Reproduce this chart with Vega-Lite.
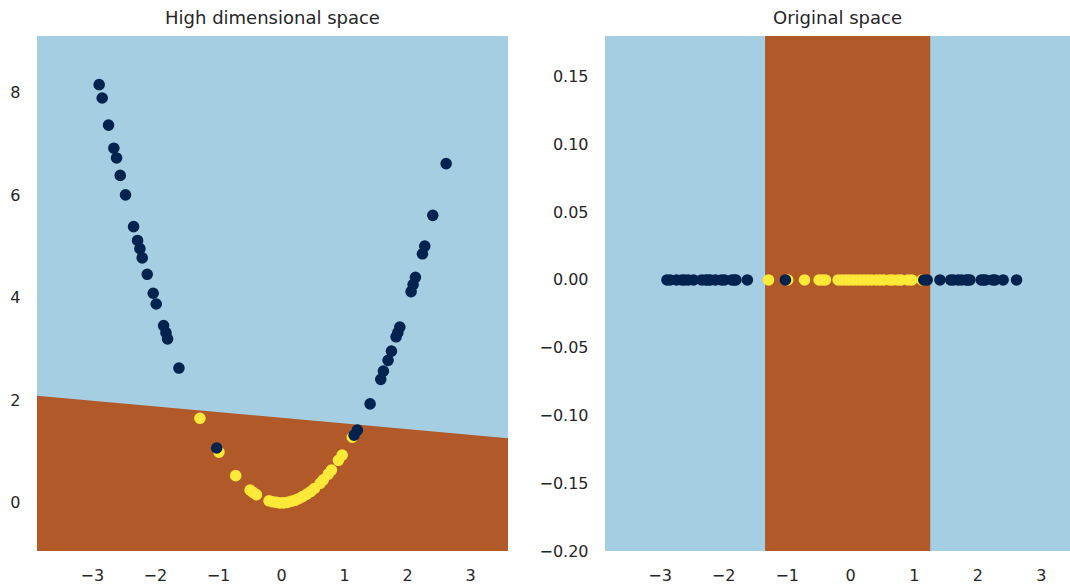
{
  "$schema": "https://vega.github.io/schema/vega-lite/v6.json",
  "background": "white",
  "padding": {"left": 9, "top": 10, "right": 0, "bottom": 2},
  "bounds": "flush",
  "spacing": 97,
  "config": {
    "view": {"stroke": null, "fill": "#a6cee3"},
    "axis": {"domain": false, "ticks": false, "grid": false, "labelFont": "DejaVu Sans", "labelFontSize": 16, "labelColor": "#262626", "title": null},
    "axisX": {"labelPadding": 16},
    "axisY": {"labelPadding": 17},
    "title": {"font": "DejaVu Sans", "fontSize": 18, "fontWeight": "normal", "color": "#262626", "offset": 8}
  },
  "datasets": {
    "pts": [
      {"x": -1.286, "y": 1.65, "z": 0, "c": "1"},
      {"x": -0.984, "y": 0.99, "z": 0, "c": "1"},
      {"x": -0.719, "y": 0.53, "z": 0, "c": "1"},
      {"x": -0.49, "y": 0.25, "z": 0, "c": "1"},
      {"x": -0.44, "y": 0.2, "z": 0, "c": "1"},
      {"x": -0.39, "y": 0.16, "z": 0, "c": "1"},
      {"x": -0.19, "y": 0.04, "z": 0, "c": "1"},
      {"x": -0.13, "y": 0.02, "z": 0, "c": "1"},
      {"x": -0.07, "y": 0.01, "z": 0, "c": "1"},
      {"x": -0.02, "y": 0.0, "z": 0, "c": "1"},
      {"x": 0.04, "y": 0.0, "z": 0, "c": "1"},
      {"x": 0.1, "y": 0.01, "z": 0, "c": "1"},
      {"x": 0.16, "y": 0.03, "z": 0, "c": "1"},
      {"x": 0.22, "y": 0.05, "z": 0, "c": "1"},
      {"x": 0.28, "y": 0.08, "z": 0, "c": "1"},
      {"x": 0.34, "y": 0.12, "z": 0, "c": "1"},
      {"x": 0.41, "y": 0.17, "z": 0, "c": "1"},
      {"x": 0.47, "y": 0.22, "z": 0, "c": "1"},
      {"x": 0.53, "y": 0.28, "z": 0, "c": "1"},
      {"x": 0.62, "y": 0.38, "z": 0, "c": "1"},
      {"x": 0.67, "y": 0.45, "z": 0, "c": "1"},
      {"x": 0.75, "y": 0.56, "z": 0, "c": "1"},
      {"x": 0.8, "y": 0.64, "z": 0, "c": "1"},
      {"x": 0.91, "y": 0.83, "z": 0, "c": "1"},
      {"x": 0.97, "y": 0.93, "z": 0, "c": "1"},
      {"x": 1.13, "y": 1.28, "z": 0, "c": "1"},
      {"x": -2.884, "y": 8.16, "z": 0, "c": "0"},
      {"x": -2.836, "y": 7.9, "z": 0, "c": "0"},
      {"x": -2.735, "y": 7.37, "z": 0, "c": "0"},
      {"x": -2.651, "y": 6.92, "z": 0, "c": "0"},
      {"x": -2.608, "y": 6.73, "z": 0, "c": "0"},
      {"x": -2.55, "y": 6.39, "z": 0, "c": "0"},
      {"x": -2.466, "y": 6.01, "z": 0, "c": "0"},
      {"x": -2.338, "y": 5.39, "z": 0, "c": "0"},
      {"x": -2.275, "y": 5.12, "z": 0, "c": "0"},
      {"x": -2.238, "y": 4.96, "z": 0, "c": "0"},
      {"x": -2.201, "y": 4.78, "z": 0, "c": "0"},
      {"x": -2.122, "y": 4.46, "z": 0, "c": "0"},
      {"x": -2.027, "y": 4.09, "z": 0, "c": "0"},
      {"x": -1.979, "y": 3.88, "z": 0, "c": "0"},
      {"x": -1.862, "y": 3.46, "z": 0, "c": "0"},
      {"x": -1.825, "y": 3.32, "z": 0, "c": "0"},
      {"x": -1.799, "y": 3.2, "z": 0, "c": "0"},
      {"x": -1.619, "y": 2.63, "z": 0, "c": "0"},
      {"x": -1.02, "y": 1.07, "z": 0, "c": "0"},
      {"x": 1.159, "y": 1.32, "z": 0, "c": "0"},
      {"x": 1.211, "y": 1.42, "z": 0, "c": "0"},
      {"x": 1.413, "y": 1.93, "z": 0, "c": "0"},
      {"x": 1.582, "y": 2.41, "z": 0, "c": "0"},
      {"x": 1.624, "y": 2.57, "z": 0, "c": "0"},
      {"x": 1.698, "y": 2.78, "z": 0, "c": "0"},
      {"x": 1.751, "y": 2.96, "z": 0, "c": "0"},
      {"x": 1.825, "y": 3.24, "z": 0, "c": "0"},
      {"x": 1.852, "y": 3.32, "z": 0, "c": "0"},
      {"x": 1.884, "y": 3.43, "z": 0, "c": "0"},
      {"x": 2.063, "y": 4.12, "z": 0, "c": "0"},
      {"x": 2.095, "y": 4.26, "z": 0, "c": "0"},
      {"x": 2.132, "y": 4.4, "z": 0, "c": "0"},
      {"x": 2.243, "y": 4.86, "z": 0, "c": "0"},
      {"x": 2.28, "y": 5.01, "z": 0, "c": "0"},
      {"x": 2.407, "y": 5.61, "z": 0, "c": "0"},
      {"x": 2.619, "y": 6.62, "z": 0, "c": "0"}
    ],
    "boundary": [
      {"bx": -3.87, "by": 2.09, "bottom": -0.94},
      {"bx": 3.6, "by": 1.26, "bottom": -0.94}
    ],
    "band": [
      {"x0": -1.34, "x1": 1.26, "y0": -0.2, "y1": 0.18}
    ]
  },
  "hconcat": [
    {
      "width": 471,
      "height": 515,
      "title": "High dimensional space",
      "layer": [
        {
          "data": {"name": "boundary"},
          "mark": {"type": "area", "color": "#b15928", "clip": true},
          "encoding": {
            "x": {"field": "bx", "type": "quantitative", "scale": {"domain": [-3.87, 3.6], "nice": false, "zero": false}, "axis": {"values": [-3, -2, -1, 0, 1, 2, 3], "format": "d"}},
            "y": {"field": "by", "type": "quantitative", "scale": {"domain": [-0.94, 9.11], "nice": false, "zero": false}, "axis": {"values": [0, 2, 4, 6, 8], "format": "d"}},
            "y2": {"field": "bottom"}
          }
        },
        {
          "data": {"name": "pts"},
          "mark": {"type": "circle", "size": 135, "opacity": 1, "clip": true},
          "encoding": {
            "x": {"field": "x", "type": "quantitative"},
            "y": {"field": "y", "type": "quantitative"},
            "color": {"field": "c", "type": "nominal", "scale": {"domain": ["0", "1"], "range": ["#00224e", "#fee838"]}, "legend": null}
          }
        }
      ]
    },
    {
      "width": 465,
      "height": 515,
      "title": "Original space",
      "layer": [
        {
          "data": {"name": "band"},
          "mark": {"type": "rect", "color": "#b15928", "clip": true},
          "encoding": {
            "x": {"field": "x0", "type": "quantitative", "scale": {"domain": [-3.86, 3.46], "nice": false, "zero": false}, "axis": {"values": [-3, -2, -1, 0, 1, 2, 3], "format": "d"}},
            "x2": {"field": "x1"},
            "y": {"field": "y0", "type": "quantitative", "scale": {"domain": [-0.2, 0.18], "nice": false, "zero": false}, "axis": {"values": [-0.2, -0.15, -0.1, -0.05, 0, 0.05, 0.1, 0.15], "format": ".2f"}},
            "y2": {"field": "y1"}
          }
        },
        {
          "data": {"name": "pts"},
          "mark": {"type": "circle", "size": 135, "opacity": 1, "clip": true},
          "encoding": {
            "x": {"field": "x", "type": "quantitative"},
            "y": {"field": "z", "type": "quantitative"},
            "color": {"field": "c", "type": "nominal", "scale": {"domain": ["0", "1"], "range": ["#00224e", "#fee838"]}, "legend": null}
          }
        }
      ]
    }
  ]
}
